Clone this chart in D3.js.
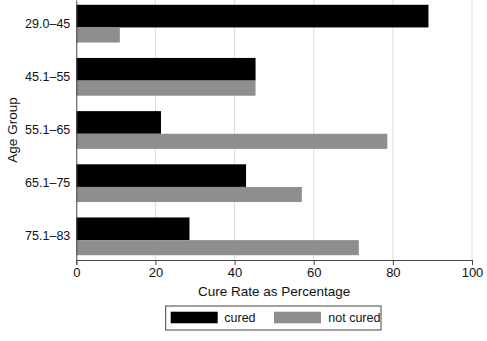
<!DOCTYPE html>
<html><head><meta charset="utf-8">
<script src="https://cdn.jsdelivr.net/npm/d3@7"></script>
<style>body{margin:0;background:#fff;} svg{display:block;font-family:"Liberation Sans",Arial,sans-serif;}</style>
</head><body><div id="chart"></div>
<script>
const categories = ["29.0\u201345","45.1\u201355","55.1\u201365","65.1\u201375","75.1\u201383"];
const cured = [89.0, 45.3, 21.4, 42.9, 28.6];
const notCured = [11.0, 45.3, 78.6, 57.0, 71.4];
const seriesNames = ["cured","not cured"];
const xTicks = [0,20,40,60,80,100];

const W=487,H=341;
const svg=d3.select("#chart").append("svg").attr("width",W).attr("height",H);
const x=d3.scaleLinear().domain([0,100]).range([76.3,472]);
const y=d3.scaleBand().domain(categories).range([0,260]).paddingInner(0.29).paddingOuter(0.09);
const color=d3.scaleOrdinal().domain(seriesNames).range(["#000000","#8e8e8e"]);
const split=0.6;

// gridlines
svg.append("g").selectAll("line").data(xTicks.slice(1)).join("line")
  .attr("x1",d=>x(d)).attr("x2",d=>x(d)).attr("y1",0).attr("y2",260)
  .attr("stroke","#dcdcdc").attr("stroke-width",1);

const bw=y.bandwidth();
// bars
svg.append("g").selectAll("rect").data(categories).join("rect")
  .attr("x",x(0)).attr("y",d=>y(d)).attr("width",(d,i)=>x(cured[i])-x(0)).attr("height",bw*split)
  .attr("fill",color("cured"));
svg.append("g").selectAll("rect").data(categories).join("rect")
  .attr("x",x(0)).attr("y",d=>y(d)+bw*split).attr("width",(d,i)=>x(notCured[i])-x(0)).attr("height",bw*(1-split))
  .attr("fill",color("not cured"));

// x axis
const xa=svg.append("g").attr("transform","translate(0,260)")
  .call(d3.axisBottom(x).tickValues(xTicks).tickSize(5).tickPadding(3));
xa.select(".domain").attr("stroke","#444");
xa.selectAll(".tick line").attr("stroke","#444");
xa.selectAll("text").attr("font-size","13px").attr("fill","#111").attr("font-family","Liberation Sans, Arial, sans-serif");

// y axis
const ya=svg.append("g").attr("transform","translate(76.3,0)")
  .call(d3.axisLeft(y).tickSize(0).tickPadding(6));
ya.select(".domain").attr("stroke","#444");
ya.selectAll("text").attr("font-size","12.5px").attr("fill","#111").attr("font-family","Liberation Sans, Arial, sans-serif");

// titles
svg.append("text").attr("x",(x(0)+x(100))/2).attr("y",296).attr("text-anchor","middle")
  .attr("font-size","13.5px").attr("fill","#111").text("Cure Rate as Percentage");
svg.append("text").attr("transform","translate(17,130) rotate(-90)").attr("text-anchor","middle")
  .attr("font-size","13.5px").attr("fill","#111").text("Age Group");

// legend
const lg=svg.append("g");
lg.append("rect").attr("x",165.7).attr("y",306).attr("width",215.3).attr("height",24)
  .attr("fill","#fff").attr("stroke","#444").attr("stroke-width",1);
const items=[{n:"cured",sx:170.7,tx:224.3},{n:"not cured",sx:274,tx:328.3}];
items.forEach(it=>{
  lg.append("rect").attr("x",it.sx).attr("y",311.7).attr("width",47).attr("height",11.6).attr("fill",color(it.n));
  lg.append("text").attr("x",it.tx).attr("y",322).attr("font-size","12.5px").attr("fill","#111").text(it.n);
});
</script></body></html>
